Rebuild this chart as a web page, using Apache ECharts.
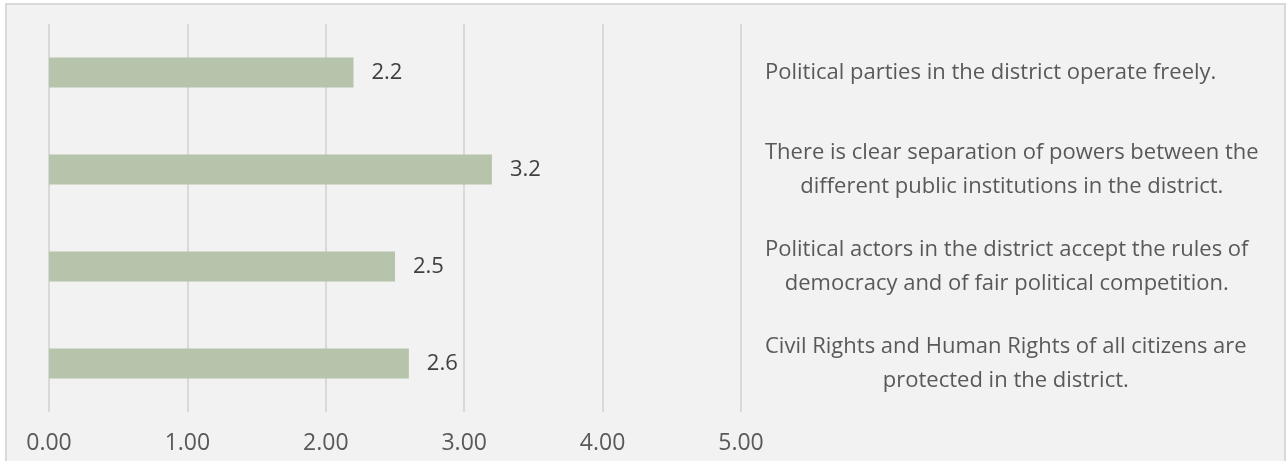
<!DOCTYPE html>
<html>
<head>
<meta charset="utf-8">
<script src="https://cdn.jsdelivr.net/npm/echarts@6/dist/echarts.min.js"></script>
<style>
html,body{margin:0;padding:0;background:#ffffff;}
#chart{width:1287px;height:461px;}
</style>
</head>
<body>
<div id="chart"></div>
<script>
const categories = [
  "Political parties in the district operate freely.",
  "There is clear separation of powers between the\ndifferent public institutions in the district.",
  "Political actors in the district accept the rules of\ndemocracy and of fair political competition.",
  "Civil Rights and Human Rights of all citizens are\nprotected in the district."
];
const values = [2.2, 3.2, 2.5, 2.6];
const xMin = 0, xMax = 5, xInterval = 1;

const FONT = "'Open Sans', sans-serif";
const chart = echarts.init(document.getElementById('chart'));
chart.setOption({
  animation: false,
  backgroundColor: 'transparent',
  textStyle: { fontFamily: FONT },
  graphic: [{
    type: 'rect', z: -10, silent: true,
    shape: { x: 6, y: 4, width: 1279, height: 480 },
    style: { fill: '#f2f2f2', stroke: '#d9d9d9', lineWidth: 2 }
  }],
  grid: { left: 49, right: 546, top: 24, bottom: 49 },
  xAxis: {
    type: 'value', min: xMin, max: xMax, interval: xInterval,
    axisLine: { show: false }, axisTick: { show: false },
    splitLine: { show: true, lineStyle: { color: '#d9d9d9', width: 2 } },
    axisLabel: {
      formatter: v => v.toFixed(2), color: '#595959', fontSize: 23, margin: 20,
      fontFamily: FONT
    }
  },
  yAxis: {
    type: 'category', data: categories, inverse: true, position: 'right',
    axisLine: { show: false }, axisTick: { show: false },
    axisLabel: {
      align: 'left', margin: 24, color: '#595959', fontSize: 22, lineHeight: 34,
      fontFamily: FONT,
      formatter: v => v.split('\n').map(s => '{c|' + s + '}').join('\n'),
      rich: {
        c: { align: 'center', color: '#595959', fontSize: 22, lineHeight: 34, fontFamily: FONT }
      }
    }
  },
  series: [{
    type: 'bar', data: values, barWidth: 30,
    itemStyle: { color: '#b5c4aa' },
    label: {
      show: true, position: 'right', distance: 18, color: '#404040', fontSize: 22,
      fontFamily: FONT,
      formatter: p => p.value.toFixed(1)
    }
  }]
});
</script>
</body>
</html>
